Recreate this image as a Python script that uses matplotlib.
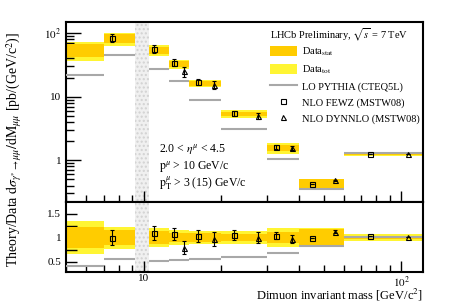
"""
Low-mass Drell-Yan cross-section vs dimuon mass, with theory/data ratio panel.
"""

import numpy as np
import matplotlib
matplotlib.use("Agg")
import matplotlib.pyplot as plt
from matplotlib.patches import Patch
from matplotlib.lines import Line2D
from matplotlib.ticker import FixedLocator, FuncFormatter, MultipleLocator, LogLocator, NullFormatter

plt.rcParams["font.family"] = ["Liberation Serif", "DejaVu Serif"]
plt.rcParams["mathtext.fontset"] = "stix"

# bin edges [GeV/c^2]
bin_lo = [5.0, 7.0, 10.5, 12.5, 15.0, 20.0, 30.0, 40.0, 60.0]
bin_hi = [7.0, 9.25, 12.5, 15.0, 20.0, 30.0, 40.0, 60.0, 120.0]
gap_lo, gap_hi = 9.25, 10.5

# measured cross-section [pb/(GeV/c^2)] and relative uncertainties
data_xs = [55, 83, 54, 33, 16.3, 5.4, 1.56, 0.43, 1.27]
stat_rel = [0.22, 0.15, 0.13, 0.10, 0.09, 0.08, 0.11, 0.18, 0.04]
tot_rel = [0.34, 0.23, 0.20, 0.16, 0.14, 0.14, 0.19, 0.19, 0.07]

# LO PYTHIA (CTEQ5L)
pythia_xs = [21.8, 45, 27.8, 18, 9.0, 3.1, 1.06, 0.355, 1.29]
pythia_ratio = [0.40, 0.55, 0.52, 0.53, 0.55, 0.59, 0.67, 0.83, 1.02]

# NLO FEWZ (MSTW08)
fewz_mass = [7.55, 11.0, 13.15, 16.2, 22.5, 32.7, 45.2, 75.7]
fewz_xs = [84, 57, 34.5, 17.1, 5.5, 1.6, 0.42, 1.26]
fewz_ratio = [1.00, 1.09, 1.07, 1.04, 1.06, 1.04, 0.99, 1.03]
fewz_rel = [0.15, 0.13, 0.12, 0.12, 0.10, 0.07, 0.0, 0.0]

# NLO DYNNLO (MSTW08)
dyn_mass = [14.35, 18.8, 27.7, 37.7, 55.3, 105.8]
dyn_xs = [25, 15.5, 5.0, 1.56, 0.48, 1.27]
dyn_ratio = [0.79, 0.97, 1.00, 0.97, 1.12, 1.01]
dyn_rel = [0.18, 0.14, 0.11, 0.08, 0.03, 0.0]

C_STAT = "#FFCC00"
C_TOT = "#FFF533"
C_PY = "#A8A8A8"

fig = plt.figure(figsize=(4.49, 3.04), dpi=100)
ax_top = fig.add_axes([0.147, 0.3355, 0.7944, 0.5921])
ax_bot = fig.add_axes([0.147, 0.1063, 0.7944, 0.2292], sharex=ax_top)

lo = np.array(bin_lo)
hi = np.array(bin_hi)
width = hi - lo
d = np.array(data_xs)
s = np.array(stat_rel)
t = np.array(tot_rel)

# top panel: data boxes
ax_top.bar(lo, d * 2 * t, width, bottom=d * (1 - t), align="edge", color=C_TOT, lw=0, zorder=1)
ax_top.bar(lo, d * 2 * s, width, bottom=d * (1 - s), align="edge", color=C_STAT, lw=0, zorder=2)
ax_top.hlines(pythia_xs, lo, hi, color=C_PY, lw=1.5, zorder=3)
ax_top.errorbar(fewz_mass, fewz_xs, yerr=np.array(fewz_xs) * np.array(fewz_rel), fmt="s",
                ms=3.6, mfc="none", mec="black", mew=0.8, ecolor="black", elinewidth=0.8,
                capsize=1.5, zorder=5)
ax_top.errorbar(dyn_mass, dyn_xs, yerr=np.array(dyn_xs) * np.array(dyn_rel), fmt="^",
                ms=3.6, mfc="none", mec="black", mew=0.8, ecolor="black", elinewidth=0.8,
                capsize=1.5, zorder=5)

# bottom panel: ratio
ax_bot.bar(lo, 2 * t, width, bottom=1 - t, align="edge", color=C_TOT, lw=0, zorder=1)
ax_bot.bar(lo, 2 * s, width, bottom=1 - s, align="edge", color=C_STAT, lw=0, zorder=2)
ax_bot.hlines(pythia_ratio, lo, hi, color=C_PY, lw=1.5, zorder=3)
ax_bot.errorbar(fewz_mass, fewz_ratio, yerr=np.array(fewz_ratio) * np.array(fewz_rel), fmt="s",
                ms=3.6, mfc="none", mec="black", mew=0.8, ecolor="black", elinewidth=0.8,
                capsize=1.5, zorder=5)
ax_bot.errorbar(dyn_mass, dyn_ratio, yerr=np.array(dyn_ratio) * np.array(dyn_rel), fmt="^",
                ms=3.6, mfc="none", mec="black", mew=0.8, ecolor="black", elinewidth=0.8,
                capsize=1.5, zorder=5)

# excluded Upsilon region
for ax in (ax_top, ax_bot):
    ax.axvspan(gap_lo, gap_hi, facecolor="#f0f0f0", edgecolor="#d2d2d2", hatch="....", lw=0, zorder=0.5)
    ax.set_xscale("log")
    ax.set_xlim(5, 121)
    for sp in ax.spines.values():
        sp.set_linewidth(1.5)
    ax.tick_params(which="both", direction="in", labelsize=8, width=1.0)
    ax.tick_params(which="major", length=8)
    ax.tick_params(which="minor", length=5)
    ax.xaxis.set_major_locator(FixedLocator([10, 100]))
    ax.xaxis.set_minor_locator(LogLocator(base=10, subs=np.arange(2, 10)))
    ax.xaxis.set_minor_formatter(NullFormatter())

pow_fmt = FuncFormatter(lambda v, p: {1: "1", 10: "10", 100: "$10^2$"}.get(int(round(v)), ""))

ax_top.set_yscale("log")
ax_top.set_ylim(0.22, 150)
ax_top.yaxis.set_major_locator(FixedLocator([1, 10, 100]))
ax_top.yaxis.set_major_formatter(pow_fmt)
ax_top.yaxis.set_minor_locator(LogLocator(base=10, subs=np.arange(2, 10)))
ax_top.yaxis.set_minor_formatter(NullFormatter())
ax_top.tick_params(axis="y", which="major", length=11)
ax_top.tick_params(axis="y", which="minor", length=6)
ax_top.tick_params(axis="x", labelbottom=False)

ax_bot.set_ylim(0.29, 1.74)
ax_bot.yaxis.set_major_locator(FixedLocator([0.5, 1, 1.5]))
ax_bot.yaxis.set_major_formatter(FuncFormatter(lambda v, p: f"{v:g}"))
ax_bot.yaxis.set_minor_locator(MultipleLocator(0.25))
ax_bot.tick_params(axis="y", which="both", length=8)
ax_bot.xaxis.set_major_formatter(pow_fmt)
ax_bot.tick_params(axis="x", pad=2)

fig.text(0.941, 0.003, "Dimuon invariant mass [GeV/c$^{2}$]", ha="right", va="bottom", fontsize=9)
fig.text(0.032, 0.51,
         r"Theory/Data $\mathrm{d}\sigma_{\gamma^{*}\rightarrow\mu\mu}/\mathrm{dM}_{\mu\mu}$ [pb/(GeV/c$^{2}$)]",
         rotation=90, ha="center", va="center", fontsize=10)

# selection cuts
ax_top.text(0.26, 0.28, r"2.0 < $\eta^{\mu}$ < 4.5", transform=ax_top.transAxes, fontsize=8.5)
ax_top.text(0.26, 0.185, r"$\mathrm{p}^{\mu}$ > 10 GeV/c", transform=ax_top.transAxes, fontsize=8.5)
ax_top.text(0.26, 0.085, r"$\mathrm{p}_{\mathrm{T}}^{\mu}$ > 3 (15) GeV/c", transform=ax_top.transAxes, fontsize=8.5)

handles = [
    Patch(facecolor=C_STAT, edgecolor="none"),
    Patch(facecolor=C_TOT, edgecolor="none"),
    Line2D([], [], color=C_PY, lw=1.5),
    Line2D([], [], marker="s", ls="none", ms=3.6, mfc="none", mec="black", mew=0.8),
    Line2D([], [], marker="^", ls="none", ms=3.6, mfc="none", mec="black", mew=0.8),
]
labels = [r"Data$_{\mathrm{stat}}$", r"Data$_{\mathrm{tot}}$", "LO PYTHIA (CTEQ5L)",
          "NLO FEWZ (MSTW08)", "NLO DYNNLO (MSTW08)"]
leg = ax_top.legend(handles, labels, title=r"LHCb Preliminary, $\sqrt{s}$ = 7 TeV",
                    loc="upper left", bbox_to_anchor=(0.56, 1.0), frameon=False,
                    fontsize=7.5, title_fontsize=7.5, handlelength=2.6, handleheight=1.1,
                    labelspacing=0.5, borderaxespad=0, handletextpad=0.5)
leg._legend_box.align = "left"
leg._legend_box.sep = 2

plt.savefig("out.png", dpi=100)
plt.close()
